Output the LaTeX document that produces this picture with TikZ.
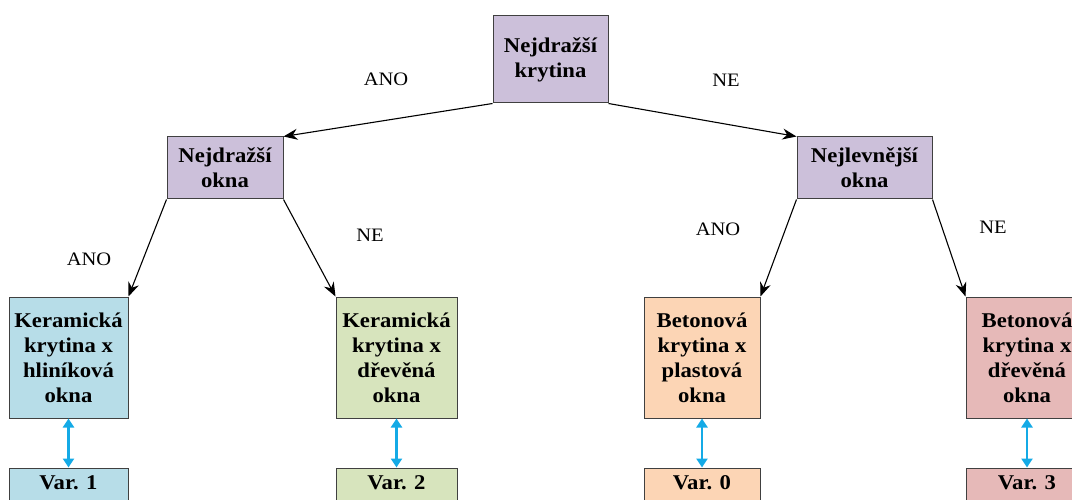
\documentclass[tikz,border=0pt]{standalone}
\usepackage{fontspec}
\setmainfont{Liberation Serif}[FakeStretch=1.08]
\usetikzlibrary{arrows.meta}
\definecolor{purp}{RGB}{204,192,218}
\definecolor{lblue}{RGB}{183,221,232}
\definecolor{lgreen}{RGB}{215,228,189}
\definecolor{lorange}{RGB}{252,213,181}
\definecolor{lred}{RGB}{230,185,184}
\definecolor{edge}{RGB}{64,64,64}
\definecolor{cyanarrow}{RGB}{20,170,230}
\begin{document}
\begin{tikzpicture}[x=1pt,y=-1pt,
  box/.style={draw=edge,line width=1pt,inner sep=0pt,align=center,
    font=\bfseries\fontsize{21}{25}\selectfont},
  varbox/.style={box,minimum height=40pt,text height=14pt,text depth=11pt},
  lbl/.style={font=\fontsize{19}{20}\selectfont,inner sep=0pt},
  conn/.style={-{Stealth[length=14pt,width=11pt]},line width=1.1pt,black},
  dbl/.style={{Triangle[length=9pt,width=11pt]}-{Triangle[length=9pt,width=11pt]},line width=2.5pt,cyanarrow}]
\useasboundingbox (0,0) rectangle (1072,500);
\clip (0,0) rectangle (1072,500);
\node[box,fill=purp,minimum width=115pt,minimum height=87pt] (top) at (550.5,59.5) {Nejdražší\\krytina};
\node[box,fill=purp,minimum width=116pt,minimum height=62pt] (nA) at (225,168) {Nejdražší\\okna};
\node[box,fill=purp,minimum width=135pt,minimum height=62pt] (nB) at (864.5,168) {Nejlevnější\\okna};
\node[box,fill=lblue,minimum width=119pt,minimum height=121pt] (k1) at (68.5,357.5) {Keramická\\krytina x\\hliníková\\okna};
\node[box,fill=lgreen,minimum width=121pt,minimum height=121pt] (k2) at (396.5,357.5) {Keramická\\krytina x\\dřevěná\\okna};
\node[box,fill=lorange,minimum width=116pt,minimum height=121pt] (b1) at (702,357.5) {Betonová\\krytina x\\plastová\\okna};
\node[box,fill=lred,minimum width=122pt,minimum height=121pt] (b2) at (1027,357.5) {Betonová\\krytina x\\dřevěná\\okna};
\node[varbox,fill=lblue,minimum width=119pt] (v1) at (68.5,488) {Var. 1};
\node[varbox,fill=lgreen,minimum width=121pt] (v2) at (396.5,488) {Var. 2};
\node[varbox,fill=lorange,minimum width=116pt] (v0) at (702,488) {Var. 0};
\node[varbox,fill=lred,minimum width=122pt] (v3) at (1027,488) {Var. 3};
\node[lbl] (l1) at (386,79) {ANO};
\node[lbl] (l2) at (726,80) {NE};
\node[lbl] (l3) at (89,259) {ANO};
\node[lbl] (l4) at (370,235) {NE};
\node[lbl] (l5) at (718,229) {ANO};
\node[lbl] (l6) at (993,227) {NE};
\draw[conn] (top.south west) -- (nA.north east);
\draw[conn] (top.south east) -- (nB.north west);
\draw[conn] (nA.south west) -- (k1.north east);
\draw[conn] (nA.south east) -- (k2.north west);
\draw[conn] (nB.south west) -- (b1.north east);
\draw[conn] (nB.south east) -- (b2.north west);
\draw[dbl] (k1.south) -- (v1.north);
\draw[dbl] (k2.south) -- (v2.north);
\draw[dbl] (b1.south) -- (v0.north);
\draw[dbl] (b2.south) -- (v3.north);
\end{tikzpicture}
\end{document}
